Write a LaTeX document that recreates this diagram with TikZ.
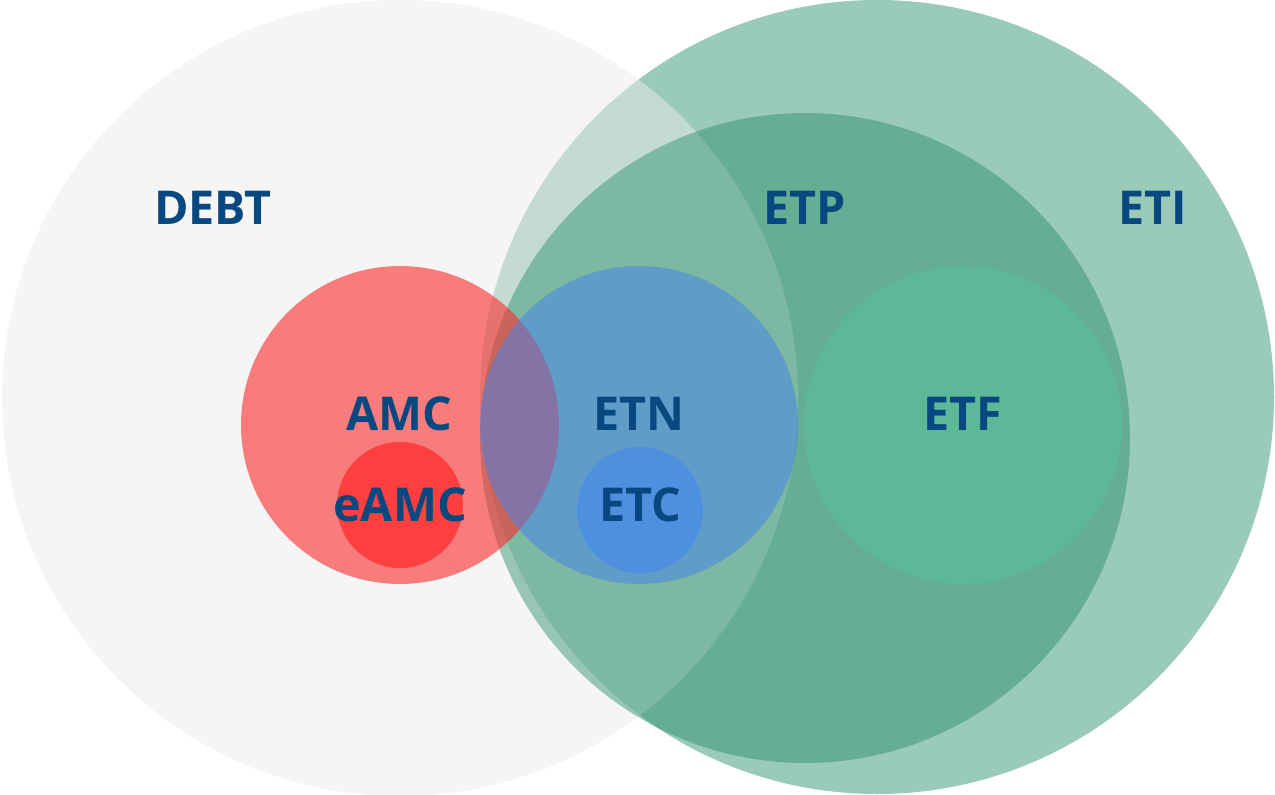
\documentclass[tikz,border=0pt]{standalone}
\usepackage{fontspec}
\setmainfont{Open Sans}

\definecolor{etpGreen}{RGB}{35,139,100}
\definecolor{debtGrey}{RGB}{236,236,236}
\definecolor{etfGreen}{RGB}{93,184,152}
\definecolor{amcRed}{RGB}{253,44,44}
\definecolor{eamcRed}{RGB}{253,63,63}
\definecolor{etnBlue}{RGB}{67,131,237}
\definecolor{etcBlue}{RGB}{79,143,223}
\definecolor{labelBlue}{RGB}{8,72,128}

\tikzset{every picture/.style={line width=0.75pt}}
\tikzset{lbl/.style={text=labelBlue,font=\fontsize{35}{40}\selectfont\bfseries,inner sep=0pt}}

\begin{document}
\begin{tikzpicture}[x=0.75pt,y=0.75pt,yscale=-1,xscale=1]
	\useasboundingbox (0,0) rectangle (1275,795);

	%Shape: Circle [ETI]
	\fill [etpGreen, fill opacity=0.46] (877,397) circle (397);
	%Shape: Circle [DEBT]
	\fill [debtGrey, fill opacity=0.52] (400,398) circle (398);
	%Shape: Circle [ETP]
	\fill [etpGreen, fill opacity=0.44] (805,438) circle (325);
	%Shape: Circle [ETF]
	\fill [etfGreen] (963,425) circle (159);
	%Shape: Circle [AMC]
	\fill [amcRed, fill opacity=0.6] (400,425) circle (159);
	%Shape: Circle [ETN]
	\fill [etnBlue, fill opacity=0.51] (639,425) circle (159);
	%Shape: Circle [eAMC]
	\fill [eamcRed] (400,505) circle (63);
	%Shape: Circle [ETC]
	\fill [etcBlue] (640,510) circle (63);

	% Text Node
	\node [lbl] (debt) at (213,208) {DEBT};
	% Text Node
	\node [lbl] (etp) at (805,208) {ETP};
	% Text Node
	\node [lbl] (eti) at (1153,208) {ETI};
	% Text Node
	\node [lbl] (amc) at (399,414) {AMC};
	% Text Node
	\node [lbl] (etn) at (639,414) {ETN};
	% Text Node
	\node [lbl] (etf) at (963,414) {ETF};
	% Text Node
	\node [lbl] (eamc) at (400,505) {eAMC};
	% Text Node
	\node [lbl] (etc) at (640,505) {ETC};

\end{tikzpicture}
\end{document}
